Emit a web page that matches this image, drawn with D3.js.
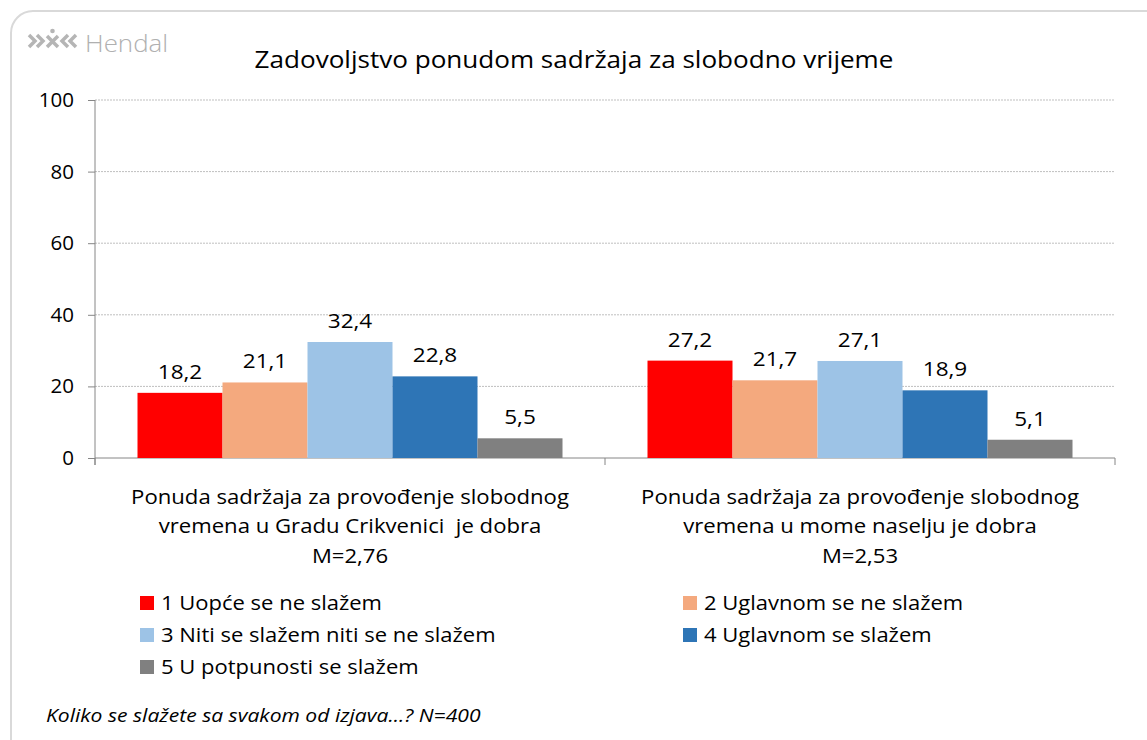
<!DOCTYPE html>
<meta charset="utf-8">
<script src="https://d3js.org/d3.v7.min.js"></script>
<style>
  body { margin: 0; background: #fff; }
  svg { font-family: "Open Sans", Lato, sans-serif; }
</style>
<div id="chart"></div>
<script>
  // data
  var categories = [
    ["Ponuda sadržaja za provođenje slobodnog", "vremena u Gradu Crikvenici  je dobra", "M=2,76"],
    ["Ponuda sadržaja za provođenje slobodnog", "vremena u mome naselju je dobra", "M=2,53"]
  ];
  var seriesNames = ["1 Uopće se ne slažem", "2 Uglavnom se ne slažem", "3 Niti se slažem niti se ne slažem",
                     "4 Uglavnom se slažem", "5 U potpunosti se slažem"];
  var grad = [18.2, 21.1, 32.4, 22.8, 5.5];
  var naselje = [27.2, 21.7, 27.1, 18.9, 5.1];
  var yTicks = [0, 20, 40, 60, 80, 100];
  var colors = ["#ff0000", "#f4a97e", "#9dc3e6", "#2e75b6", "#808080"];

  var W = 1147, H = 740;
  var margin = {top: 100, left: 95, right: 32, bottom: 282};
  var width = W - margin.left - margin.right,
      height = H - margin.top - margin.bottom;

  var svg = d3.select("#chart").append("svg")
    .attr("width", W).attr("height", H);

  // the original text is a bit wider than Open Sans, so stretch it a little
  function stretched(parent, x, y, k) {
    return parent.append("g").attr("transform", "translate(" + x + "," + y + ") scale(" + k + ",1)")
      .append("text");
  }

  // rounded frame
  svg.append("rect")
    .attr("x", 11).attr("y", 11).attr("width", 1160).attr("height", 760)
    .attr("rx", 22).attr("fill", "#fff")
    .attr("stroke", "#d9d9d9").attr("stroke-width", 2);

  // logo
  var logo = svg.append("g").attr("transform", "translate(29,41)").attr("fill", "none")
    .attr("stroke", "#b5b5b5").attr("stroke-width", 3.5);
  logo.append("path").attr("d", "M0,-6 L6,0 L0,6 M8,-6 L14,0 L8,6");
  logo.append("path").attr("d", "M18,-5 L29,6 M29,-5 L18,6");
  logo.append("circle").attr("cx", 23.5).attr("cy", -10).attr("r", 2.3).attr("fill", "#b5b5b5").attr("stroke", "none");
  logo.append("path").attr("d", "M39,-6 L33,0 L39,6 M47,-6 L41,0 L47,6");
  stretched(svg, 85, 52, 1.08)
    .attr("font-size", 24).attr("font-weight", 300).attr("fill", "#b0b0b0")
    .text("Hendal");

  // title
  stretched(svg, 574, 68, 1.11).attr("text-anchor", "middle")
    .attr("font-size", 23.5).attr("fill", "#000")
    .text("Zadovoljstvo ponudom sadržaja za slobodno vrijeme");

  var g = svg.append("g").attr("transform", "translate(" + margin.left + "," + margin.top + ")");

  // each category gets an equal slot, bars fill the middle 5/6 of it
  var x0 = d3.scaleBand().domain(d3.range(categories.length)).range([0, width]).padding(0);
  var x1 = d3.scaleBand().domain(d3.range(seriesNames.length))
    .range([x0.bandwidth() / 12, x0.bandwidth() * 11 / 12]).padding(0);
  var y = d3.scaleLinear().domain([0, 100]).range([height, 0]);

  // gridlines
  g.append("g").selectAll("line").data(yTicks.slice(1)).enter().append("line")
    .attr("x1", 0).attr("x2", width)
    .attr("y1", function(d) { return y(d); }).attr("y2", function(d) { return y(d); })
    .attr("stroke", "#bfbfbf").attr("stroke-dasharray", "2,1");

  // y axis
  var yAxis = g.append("g").call(d3.axisLeft(y).tickValues(yTicks).tickSize(7).tickPadding(14));
  yAxis.select(".domain").attr("stroke", "#868686").attr("d", "M0," + (height + 7) + "V0");
  yAxis.selectAll(".tick line").attr("stroke", "#868686");
  yAxis.selectAll("text").attr("font-size", 20.5).attr("fill", "#000").attr("font-family", "Open Sans");

  // x axis line and category dividers
  g.append("line").attr("x1", 0).attr("x2", width).attr("y1", height).attr("y2", height)
    .attr("stroke", "#868686");
  g.append("g").selectAll("line").data(d3.range(categories.length + 1)).enter().append("line")
    .attr("x1", function(d) { return d * x0.step(); }).attr("x2", function(d) { return d * x0.step(); })
    .attr("y1", height).attr("y2", height + 7).attr("stroke", "#868686");

  // bars
  var groups = [grad, naselje];
  var grp = g.selectAll(".grp").data(groups).enter().append("g")
    .attr("transform", function(d, i) { return "translate(" + x0(i) + ",0)"; });
  grp.selectAll("rect").data(function(d) { return d; }).enter().append("rect")
    .attr("x", function(d, i) { return x1(i); })
    .attr("width", x1.bandwidth())
    .attr("y", function(d) { return y(d); })
    .attr("height", function(d) { return height - y(d); })
    .attr("fill", function(d, i) { return colors[i]; });
  grp.selectAll(".val").data(function(d) { return d; }).enter().append("g")
    .attr("transform", function(d, i) {
      return "translate(" + (x1(i) + x1.bandwidth() / 2) + "," + (y(d) - 14) + ") scale(1.1,1)";
    })
    .append("text")
    .attr("text-anchor", "middle").attr("font-size", 20.5).attr("fill", "#000")
    .text(function(d) { return d3.format(".1f")(d).replace(".", ","); });

  // category labels
  var cat = g.selectAll(".cat").data(categories).enter().append("g")
    .attr("transform", function(d, i) {
      return "translate(" + (x0(i) + x0.bandwidth() / 2) + "," + (height + 46) + ") scale(1.08,1)";
    })
    .append("text")
    .attr("text-anchor", "middle").attr("font-size", 20.5).attr("fill", "#000");
  cat.selectAll("tspan").data(function(d) { return d; }).enter().append("tspan")
    .attr("x", 0).attr("dy", function(d, i) { return i ? 29.5 : 0; })
    .attr("xml:space", "preserve")
    .text(function(d) { return d; });

  // legend
  var legendX = [140, 683], legendY0 = 603, legendStep = 32;
  var leg = svg.selectAll(".leg").data(seriesNames).enter().append("g")
    .attr("transform", function(d, i) {
      return "translate(" + legendX[i % 2] + "," + (legendY0 + Math.floor(i / 2) * legendStep) + ")";
    });
  leg.append("rect").attr("x", 0).attr("y", -7).attr("width", 14).attr("height", 14)
    .attr("fill", function(d, i) { return colors[i]; });
  leg.append("g").attr("transform", "translate(21,7) scale(1.1,1)")
    .append("text").attr("font-size", 20).attr("fill", "#000")
    .text(function(d) { return d; });

  // footnote
  stretched(svg, 46, 722, 1.14).attr("font-size", 18.5)
    .attr("font-style", "italic").attr("fill", "#000")
    .text("Koliko se slažete sa svakom od izjava...? N=400");
</script>
